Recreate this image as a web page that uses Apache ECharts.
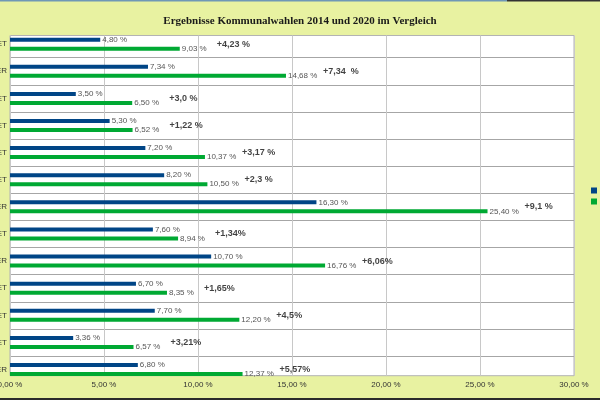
<!DOCTYPE html>
<html>
<head>
<meta charset="utf-8">
<script src="https://cdn.jsdelivr.net/npm/echarts@6/dist/echarts.min.js"></script>
<style>
  html, body { margin: 0; padding: 0; background: #e8f2a1; }
  #main { width: 600px; height: 400px; }
</style>
</head>
<body>
<div id="main"></div>
<script>
'use strict'
// Kategorien (links abgeschnitten, nur letzter Buchstabe sichtbar)
var categories = [
    '01 STADTGEBIET', '02 KREISWÄHLER', '03 STADTGEBIET', '04 STADTGEBIET',
    '05 STADTGEBIET', '06 STADTGEBIET', '07 KREISWÄHLER', '08 STADTGEBIET',
    '09 KREISWÄHLER', '10 STADTGEBIET', '11 STADTGEBIET', '12 STADTGEBIET',
    '13 KREISWÄHLER'
]
var seriesNames = ['2014', '2020']
var values2014 = [4.80, 7.34, 3.50, 5.30, 7.20, 8.20, 16.30, 7.60, 10.70, 6.70, 7.70, 3.36, 6.80]
var values2020 = [9.03, 14.68, 6.50, 6.52, 10.37, 10.50, 25.40, 8.94, 16.76, 8.35, 12.20, 6.57, 12.37]
var diffs = ['+4,23 %', '+7,34  %', '+3,0 %', '+1,22 %', '+3,17 %', '+2,3 %', '+9,1 %',
    '+1,34%', '+6,06%', '+1,65%', '+4,5%', '+3,21%', '+5,57%']
var xTicks = [0, 5, 10, 15, 20, 25, 30]

var fmt = function (v) {
    return v.toFixed(2).replace('.', ',') + ' %'
}

var myChart = echarts.init(document.getElementById('main'))

var valueLabel = {
    show: true,
    position: 'right',
    distance: 2,
    fontFamily: 'Liberation Sans',
    fontSize: 8,
    color: '#555',
    formatter: function (p) { return fmt(p.value) }
}

var option = {
    backgroundColor: '#e8f2a1',
    animation: false,
    title: {
        text: 'Ergebnisse Kommunalwahlen 2014 und 2020 im Vergleich',
        left: 'center',
        top: 11,
        textStyle: {
            fontFamily: 'Liberation Serif',
            fontWeight: 'bold',
            fontSize: 11,
            color: '#1a1a1a'
        }
    },
    legend: {
        orient: 'vertical',
        left: 591,
        top: 186,
        padding: 0,
        itemWidth: 6,
        itemHeight: 6,
        itemGap: 2,
        icon: 'rect',
        textStyle: { fontSize: 9, color: '#333' },
        data: seriesNames
    },
    grid: [
        // sichtbare Zeichenfläche
        {
            left: 10, right: 26, top: 35.5, bottom: 24.3,
            outerBoundsMode: 'none', containLabel: false,
            show: true, backgroundColor: '#fff', borderColor: '#b3b3b3', borderWidth: 1
        },
        // Balken (erste und letzte Zeile oben/unten angeschnitten)
        {
            left: 10, right: 26, top: 30.6, bottom: 16.9,
            outerBoundsMode: 'none', containLabel: false
        }
    ],
    xAxis: [
        {
            gridIndex: 0,
            type: 'value',
            min: xTicks[0],
            max: xTicks[xTicks.length - 1],
            interval: 5,
            axisLine: { show: false },
            axisTick: { show: false },
            axisLabel: {
                margin: 5,
                fontFamily: 'Liberation Sans',
                fontSize: 8,
                color: '#333',
                formatter: function (v) { return fmt(v) }
            },
            splitLine: { lineStyle: { color: '#c8c8c8', width: 1 } }
        },
        {
            gridIndex: 1,
            type: 'value',
            min: 0,
            max: 30,
            show: false
        }
    ],
    yAxis: [
        {
            gridIndex: 0,
            type: 'value',
            show: false
        },
        {
            gridIndex: 1,
            type: 'category',
            inverse: true,
            data: categories,
            axisLine: { show: false },
            axisTick: { show: false },
            axisLabel: {
                margin: 3,
                padding: [9, 0, 0, 0],
                fontFamily: 'Liberation Sans',
                fontSize: 8,
                color: '#333'
            },
            splitLine: {
                show: true,
                showMinLine: false,
                showMaxLine: false,
                lineStyle: { color: '#a6a6a6', width: 1 }
            }
        }
    ],
    series: [
        {
            name: seriesNames[0],
            type: 'bar',
            xAxisIndex: 1,
            yAxisIndex: 1,
            data: values2014,
            barWidth: 4,
            barGap: '125%',
            itemStyle: { color: '#004586' },
            label: valueLabel
        },
        {
            name: seriesNames[1],
            type: 'bar',
            xAxisIndex: 1,
            yAxisIndex: 1,
            data: values2020,
            barWidth: 4,
            barGap: '125%',
            itemStyle: { color: '#00a933' },
            label: valueLabel
        },
        {
            // Differenz-Beschriftung rechts neben dem 2020-Wert
            name: 'Differenz',
            type: 'scatter',
            xAxisIndex: 1,
            yAxisIndex: 1,
            symbolSize: 0,
            silent: true,
            data: values2020.map(function (v, i) { return [v, i] }),
            label: {
                show: true,
                position: 'right',
                distance: 37,
                fontFamily: 'Liberation Sans',
                fontWeight: 'bold',
                fontSize: 9,
                color: '#111',
                formatter: function (p) { return diffs[p.dataIndex] }
            }
        }
    ],
    graphic: [
        { type: 'rect', z: 100, shape: { x: 0, y: 0, width: 507, height: 1.5 }, style: { fill: '#6f98b6' } },
        { type: 'rect', z: 100, shape: { x: 507, y: 0, width: 93, height: 1.5 }, style: { fill: '#333' } },
        { type: 'rect', z: 100, shape: { x: 0, y: 398, width: 600, height: 2 }, style: { fill: '#2b2b2b' } }
    ]
}
myChart.setOption(option)
</script>
</body>
</html>
